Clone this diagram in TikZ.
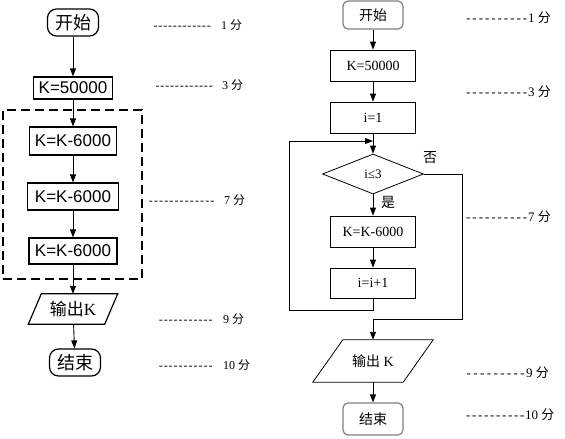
\documentclass[tikz,border=0pt]{standalone}
\usepackage{fontspec}
\setmainfont{Liberation Serif}
\newfontfamily\lsans{Liberation Sans}
\newfontfamily\cjk{Noto Sans CJK SC}
\usetikzlibrary{arrows.meta,shapes.geometric}
\newcommand\mydashes[2]{\hbox to #1{\xleaders\hbox to #2{\hss-\hss}\hfill}}
\begin{document}
\begin{tikzpicture}[x=1pt,y=-1pt,
  lbox/.style={draw, line width=1.2pt, inner sep=0pt, font=\lsans\fontsize{17}{20}\selectfont},
  lterm/.style={lbox, rounded corners=9pt, font=\cjk\fontsize{18}{20}\selectfont},
  rbox/.style={draw, line width=0.8pt, minimum width=85pt, minimum height=31pt, inner sep=0pt, font=\fontsize{14}{16}\selectfont},
  rterm/.style={rbox, draw=gray, line width=1.2pt, rounded corners=5pt, minimum width=60pt, font=\cjk\fontsize{14}{16}\selectfont},
  arr/.style={-{Triangle[length=8pt,width=6pt]}, line width=0.9pt},
  llab/.style={anchor=west, inner sep=0pt, font=\fontsize{12}{14}\selectfont},
  rlab/.style={anchor=west, inner sep=0pt, font=\fontsize{13}{15}\selectfont},
  cjklab/.style={inner sep=0pt, font=\cjk\fontsize{14}{16}\selectfont}]
\useasboundingbox[fill=white] (0,0) rectangle (565,439);

% ---------- left diagram ----------
\node[lterm, minimum width=51pt, minimum height=27pt] (Ls) at (73,22.5) {开始};
\node[lbox, minimum width=79pt, minimum height=22pt] (Lk) at (73,88) {K=50000};
\node[draw, dash pattern=on 9pt off 5pt, line width=1.2pt, inner sep=0pt, minimum width=139pt, minimum height=169pt] (Ld) at (72.5,194.5) {};
\node[lbox, minimum width=87pt, minimum height=28pt] (L1) at (73,141) {K=K-6000};
\node[lbox, minimum width=91pt, minimum height=27pt] (L2) at (73,196.5) {K=K-6000};
\node[lbox, minimum width=88pt, minimum height=26pt] (L3) at (73,251) {K=K-6000};
\node[inner sep=0pt, minimum width=89pt, minimum height=30pt, font=\fontsize{17}{20}\selectfont] (Lo) at (73,309) {{\cjk 输出}K};
\draw[line width=1.2pt] (Lo.south west) -- ([xshift=-13pt]Lo.south east) -- (Lo.north east) -- ([xshift=13pt]Lo.north west) -- cycle;
\node[lterm, minimum width=51pt, minimum height=27pt] (Le) at (75,362.5) {结束};

\draw[arr] (Ls) -- (Lk);
\draw[arr] (Lk) -- (L1);
\draw[arr] (L1) -- (L2);
\draw[arr] (L2) -- (L3);
\draw[arr] (L3) -- (Lo);
\draw[arr] (Lo) -- (Le);

\node[llab] (la1) at (153,25) {\mydashes{58pt}{4.8pt}\hspace{10pt}1 {\cjk 分}};
\node[llab] (la3) at (155,85) {\mydashes{58pt}{4.8pt}\hspace{9pt}3 {\cjk 分}};
\node[llab] (la7) at (148,200) {\mydashes{67pt}{4.8pt}\hspace{9pt}7 {\cjk 分}};
\node[llab] (la9) at (158,319) {\mydashes{55pt}{4.8pt}\hspace{10pt}9 {\cjk 分}};
\node[llab] (la10) at (158,365) {\mydashes{55pt}{4.8pt}\hspace{10pt}10 {\cjk 分}};

% ---------- right diagram ----------
\node[rterm, minimum height=28pt] (Rs) at (373,15) {开始};
\node[rbox] (Rk) at (373,65.5) {K=50000};
\node[rbox] (Ri) at (373,117.5) {i=1};
\node[draw, diamond, line width=0.8pt, minimum width=101pt, minimum height=40pt, inner sep=0pt, font=\fontsize{13}{15}\selectfont] (Rd) at (373,174) {i≤3};
\node[rbox] (Rkk) at (373,231.5) {K=K-6000};
\node[rbox, minimum height=30pt] (Rii) at (373,283) {i=i+1};
\node[inner sep=0pt, minimum width=120pt, minimum height=42pt, font=\fontsize{14}{16}\selectfont] (Ro) at (373,361) {{\cjk 输出} K};
\draw[line width=0.8pt] (Ro.south west) -- ([xshift=-30pt]Ro.south east) -- (Ro.north east) -- ([xshift=30pt]Ro.north west) -- cycle;
\node[rterm, minimum height=32pt] (Re) at (373,419) {结束};

\coordinate (lp) at (289,310);
\coordinate (jn) at (373,141);
\coordinate (nr) at (462,319);

\draw[arr] (Rs) -- (Rk);
\draw[arr] (Rk) -- (Ri);
\draw[arr] (Ri) -- (Rd);
\draw[arr] (Rd) -- (Rkk);
\draw[arr] (Rkk) -- (Rii);
\draw[arr] (Rii.south) |- (lp) |- (jn);
\draw[arr] (Rd.east) -| (nr) -| (Ro.north);
\draw[arr] (Ro) -- (Re);

\node[cjklab] (no) at (430,158) {否};
\node[cjklab] (yes) at (388,202) {是};

\node[rlab] (ra1) at (465,18) {\mydashes{63pt}{6.3pt}1 {\cjk 分}};
\node[rlab] (ra3) at (465,92) {\mydashes{63pt}{6.3pt}3 {\cjk 分}};
\node[rlab] (ra7) at (465,217) {\mydashes{63pt}{6.3pt}7 {\cjk 分}};
\node[rlab] (ra9) at (465,373) {\mydashes{61pt}{6.3pt}9 {\cjk 分}};
\node[rlab] (ra10) at (465,415) {\mydashes{60pt}{6pt}10 {\cjk 分}};
\end{tikzpicture}
\end{document}
